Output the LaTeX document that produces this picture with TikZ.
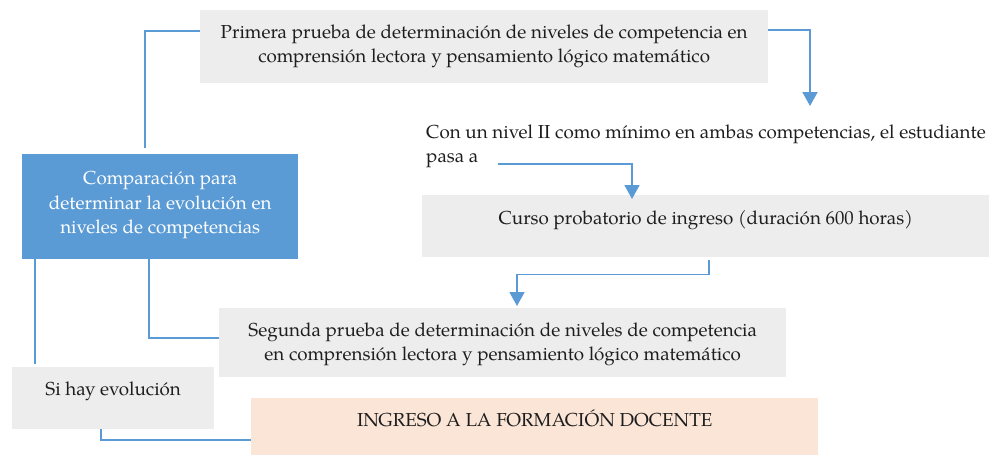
\documentclass[tikz,border=0pt]{standalone}
\usepackage{fontspec}
\setmainfont{TeX Gyre Pagella}
\usetikzlibrary{arrows.meta,calc}
\definecolor{boxgray}{HTML}{EDEDED}
\definecolor{bluefill}{HTML}{5B9BD5}
\definecolor{peach}{HTML}{FBE5D6}
\definecolor{lineblue}{HTML}{5B9BD5}
\definecolor{txtcol}{HTML}{1E1E1E}
\begin{document}
\begin{tikzpicture}[x=1pt,y=-1pt,
  box/.style={draw=none, inner sep=0pt, anchor=north west},
  graybox/.style={box, fill=boxgray},
  bluebox/.style={box, fill=bluefill},
  peachbox/.style={box, fill=peach},
  txt/.style={font=\fontsize{18.8}{24.5}\selectfont, align=center, inner sep=0pt, text=txtcol, anchor=base},
  thinline/.style={draw=lineblue, line width=1.2pt},
  arrowline/.style={draw=lineblue, line width=1.8pt, -{Triangle[width=15pt,length=14pt]}},
]
\useasboundingbox (0,0) rectangle (995,455);

% boxes
\node[graybox, minimum width=568pt, minimum height=73pt] (p1) at (200,10) {};
\node[bluebox, minimum width=276pt, minimum height=105pt] (comp) at (22,154) {};
\node[graybox, minimum width=567pt, minimum height=62pt] (curso) at (422,195) {};
\node[graybox, minimum width=567pt, minimum height=69pt] (seg) at (219,308) {};
\node[graybox, minimum width=202pt, minimum height=62pt] (si) at (12,367) {};
\node[peachbox, minimum width=567pt, minimum height=57pt] (ing) at (251,398) {};

% texts (base anchor = baseline of the last line)
\node[txt] (p1t) at ($(p1.north)+(0,52.5)$) {Primera prueba de determinación de niveles de competencia en\\comprensión lectora y pensamiento lógico matemático};
\node[txt, text=white] (compt) at ($(comp.north)+(0,79.5)$) {Comparación para\\determinar la evolución en\\niveles de competencias};
\node[txt] (cursot) at ($(curso.north)+(0,29)$) {Curso probatorio de ingreso (duración 600 horas)};
\node[txt] (segt) at ($(seg.north)+(0,52.5)$) {Segunda prueba de determinación de niveles de competencia\\en comprensión lectora y pensamiento lógico matemático};
\node[txt] (sit) at ($(si.north)+(0,28)$) {Si hay evolución};
\node[txt] (ingt) at ($(ing.north)+(0,28)$) {INGRESO A LA FORMACIÓN DOCENTE};
\node[txt, anchor=base west, align=left] (cond) at (426,162.5) {Con un nivel II como mínimo en ambas competencias, el estudiante\\pasa a};

% connectors
\coordinate (a1end) at (810,106);
\coordinate (a2start) at (498,164);
\draw[thinline] ($(p1.north west)+(0,21)$) -| ($(comp.north west)+(123,-6)$);
\draw[arrowline] ($(p1.north east)+(0,20)$) -| (a1end);
\draw[arrowline] (a2start) -| ($(curso.north west)+(210,4)$);
\draw[arrowline] ($(curso.south west)+(287,3)$) -- ++(0,14) -| ($(seg.north west)+(298,-2)$);
\draw[thinline] ($(comp.south west)+(13,0)$) -- ($(si.north west)+(23,-3)$);
\draw[thinline] ($(comp.south west)+(127,0)$) |- (seg.west |- 0,338);
\draw[thinline] ($(si.south west)+(89,0)$) |- (ing.west |- 0,440);
\end{tikzpicture}
\end{document}
